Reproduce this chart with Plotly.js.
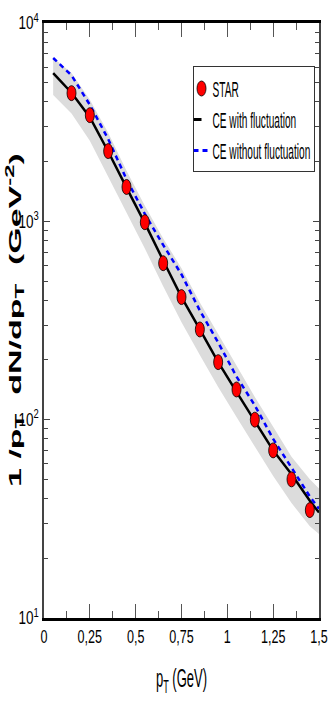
<!DOCTYPE html>
<html>
<head>
<meta charset="utf-8">
<script src="https://cdn.plot.ly/plotly-3.0.1.min.js"></script>
<style>
  html, body { margin: 0; padding: 0; background: #fff; overflow: hidden; width: 328px; height: 714px; }
  #spectrum { width: 328px; height: 714px; overflow: hidden; }
</style>
</head>
<body>
<div id="spectrum"></div>
<script>
// STAR data points
var starPt = [0.15, 0.25, 0.35, 0.45, 0.55, 0.65, 0.75, 0.85, 0.95, 1.05, 1.15, 1.25, 1.35, 1.45];
var starY = [4430, 3430, 2260, 1490, 990, 615, 415, 285, 195, 142, 100, 70, 50, 35];

// model curves
var curvePt = [0.05, 0.15, 0.25, 0.35, 0.45, 0.55, 0.65, 0.75, 0.85, 0.95, 1.05, 1.15, 1.25, 1.35, 1.45, 1.5];
var ceFluct = [5590, 4450, 3350, 2250, 1480, 980, 635, 415, 285, 195, 138, 98, 70, 53, 39, 34];
var ceNoFluct = [6660, 5450, 3870, 2600, 1630, 1090, 760, 540, 355, 245, 165, 118, 80, 57, 41, 35.5];

// grey uncertainty band
var bandHigh = [6700, 5600, 4100, 2800, 1800, 1200, 820, 580, 390, 270, 185, 130, 92, 65, 50, 45];
var bandLow = [4330, 3500, 2550, 1680, 1100, 730, 470, 310, 212, 146, 103, 73, 52, 38, 29, 26.5];

var xTicks = [0, 0.25, 0.5, 0.75, 1, 1.25, 1.5];
var xTickText = ["0", "0,25", "0,5", "0,75", "1", "1,25", "1,5"];
var yTicks = [10, 100, 1000, 10000];
var yTickText = ["10<sup>1</sup>", "10<sup>2</sup>", "10<sup>3</sup>", "10<sup>4</sup>"];

var sans = "Liberation Sans, Arial, sans-serif";

var data = [
  {
    x: curvePt, y: bandLow, type: "scatter", mode: "lines",
    line: {width: 0, color: "#dcdcdc"}, showlegend: false, hoverinfo: "skip"
  },
  {
    x: curvePt, y: bandHigh, type: "scatter", mode: "lines",
    fill: "tonexty", fillcolor: "#dcdcdc",
    line: {width: 0, color: "#dcdcdc"}, showlegend: false, hoverinfo: "skip"
  },
  {
    x: curvePt, y: ceFluct, type: "scatter", mode: "lines",
    name: "CE with fluctuation", legendrank: 2,
    line: {color: "#000000", width: 2.5}
  },
  {
    x: curvePt, y: ceNoFluct, type: "scatter", mode: "lines",
    name: "CE without fluctuation", legendrank: 3,
    line: {color: "#0000ff", width: 2.5, dash: "5px,4px"}
  },
  {
    x: starPt, y: starY, type: "scatter", mode: "markers",
    name: "STAR", legendrank: 1,
    marker: {color: "#ff0000", size: 15, line: {color: "#000000", width: 1}}
  },
  // carries the top and right frame axes
  {
    x: curvePt, y: ceFluct, type: "scatter", mode: "lines",
    xaxis: "x2", yaxis: "y2",
    line: {width: 0, color: "rgba(0,0,0,0)"}, showlegend: false, hoverinfo: "skip"
  }
];

var layout = {
  width: 328,
  height: 714,
  margin: {l: 44, r: 9, t: 23, b: 96},
  font: {family: sans, size: 18, color: "#000"},
  showlegend: true,
  legend: {
    x: 1, y: 1, xanchor: "right", yanchor: "top",
    traceorder: "normal",
    bordercolor: "#333", borderwidth: 1, bgcolor: "#fff",
    font: {family: sans, size: 22},
    itemwidth: 30
  },
  xaxis: {
    range: [0, 1.5],
    tickvals: xTicks, ticktext: xTickText,
    ticklabeloverflow: "allow",
    ticks: "inside", ticklen: 14, tickcolor: "#555", tickwidth: 1.2,
    minor: {ticks: "inside", ticklen: 7, dtick: 0.125, tickcolor: "#555", tickwidth: 1.2},
    showline: true, linecolor: "#000", linewidth: 3,
    showgrid: false, zeroline: false,
    tickfont: {family: sans, size: 18},
    title: {text: "p<sub>T</sub> (GeV)", font: {family: sans, size: 26}, standoff: 24}
  },
  xaxis2: {
    overlaying: "x", side: "top", matches: "x", anchor: "y",
    range: [0, 1.5],
    tickvals: xTicks, showticklabels: false,
    ticks: "inside", ticklen: 14, tickcolor: "#555", tickwidth: 1.2,
    minor: {ticks: "inside", ticklen: 7, dtick: 0.125, tickcolor: "#555", tickwidth: 1.2},
    showline: true, linecolor: "#000", linewidth: 3,
    showgrid: false, zeroline: false
  },
  yaxis: {
    type: "log",
    range: [1, 4],
    tickvals: yTicks, ticktext: yTickText,
    ticks: "inside", ticklen: 6, tickcolor: "#444",
    minor: {ticks: "inside", ticklen: 4, dtick: "D1", tickcolor: "#444"},
    showline: true, linecolor: "#444", linewidth: 1.5,
    showgrid: false, zeroline: false,
    tickfont: {family: sans, size: 18},
    title: {text: ""}
  },
  yaxis2: {
    overlaying: "y", side: "right", matches: "y", anchor: "x",
    type: "log",
    range: [1, 4],
    tickvals: yTicks, showticklabels: false,
    ticks: "inside", ticklen: 6, tickcolor: "#444",
    minor: {ticks: "inside", ticklen: 4, dtick: "D1", tickcolor: "#444"},
    showline: true, linecolor: "#444", linewidth: 1.5,
    showgrid: false, zeroline: false
  }
};

// squeeze a text horizontally around its own anchor
function condense(el, s) {
  var x = parseFloat(el.getAttribute("x")) || 0;
  var t = el.getAttribute("transform") || "";
  el.setAttribute("transform", t + " translate(" + x + ",0) scale(" + s + ",1) translate(" + (-x) + ",0)");
}

Plotly.newPlot("spectrum", data, layout, {displayModeBar: false}).then(function (gd) {
  var svg = gd.querySelector(".main-svg");

  // STAR markers drawn as upright ellipses
  gd.querySelectorAll(".scatterlayer .trace .points path").forEach(function (p) {
    p.setAttribute("transform", p.getAttribute("transform") + " scale(0.6,1)");
  });

  gd.querySelectorAll(".xtick text").forEach(function (el) { condense(el, 0.7); });
  gd.querySelectorAll(".ytick text").forEach(function (el) { condense(el, 0.75); });
  gd.querySelectorAll(".xtitle").forEach(function (el) { condense(el, 0.5); });

  // vertical title, long and narrow like the original
  var ns = "http://www.w3.org/2000/svg";
  var yt = document.createElementNS(ns, "text");
  var cx = 21, cy = 320;
  yt.setAttribute("x", cx);
  yt.setAttribute("y", cy);
  yt.setAttribute("text-anchor", "middle");
  yt.setAttribute("class", "ytitle");
  yt.setAttribute("style", "font-family: 'Liberation Sans', Arial, sans-serif; font-weight: bold; font-size: 34px; fill: #000;");
  yt.setAttribute("transform", "rotate(-90," + cx + "," + cy + ") translate(" + cx + "," + cy + ") scale(1,0.5) translate(" + (-cx) + "," + (-cy) + ")");
  yt.innerHTML = '1 /p<tspan style="font-size:24px" dy="7">T</tspan><tspan dy="-7">  dN/dp</tspan>' +
    '<tspan style="font-size:24px" dy="7">T</tspan><tspan dy="-7">  (GeV</tspan>' +
    '<tspan style="font-size:24px" dy="-13">-2</tspan><tspan dy="13">)</tspan>';
  yt.setAttribute("xml:space", "preserve");
  yt.style.whiteSpace = "pre";
  svg.appendChild(yt);

  // legend: small box in the upper right of the frame
  var leg = gd.querySelector(".legend");
  leg.setAttribute("transform", "translate(192.5,65.5)");
  var bg = leg.querySelector("rect.bg");
  bg.setAttribute("width", 121);
  bg.setAttribute("height", 105);
  var rows = [23, 54, 85];
  leg.querySelectorAll(".traces").forEach(function (tr, i) {
    tr.setAttribute("transform", "translate(0," + rows[i] + ")");
    var txt = tr.querySelector("text.legendtext");
    txt.setAttribute("x", 20);
    condense(txt, 0.46);
    tr.querySelectorAll(".legendlines path").forEach(function (p) {
      p.setAttribute("d", i === 2 ? "M1,0h14" : "M1,0h8");
      p.style.strokeWidth = "3px";
    });
    tr.querySelectorAll(".legendpoints path").forEach(function (p) {
      p.setAttribute("transform", "translate(9,0) scale(0.6,1)");
    });
  });
});
</script>
</body>
</html>
